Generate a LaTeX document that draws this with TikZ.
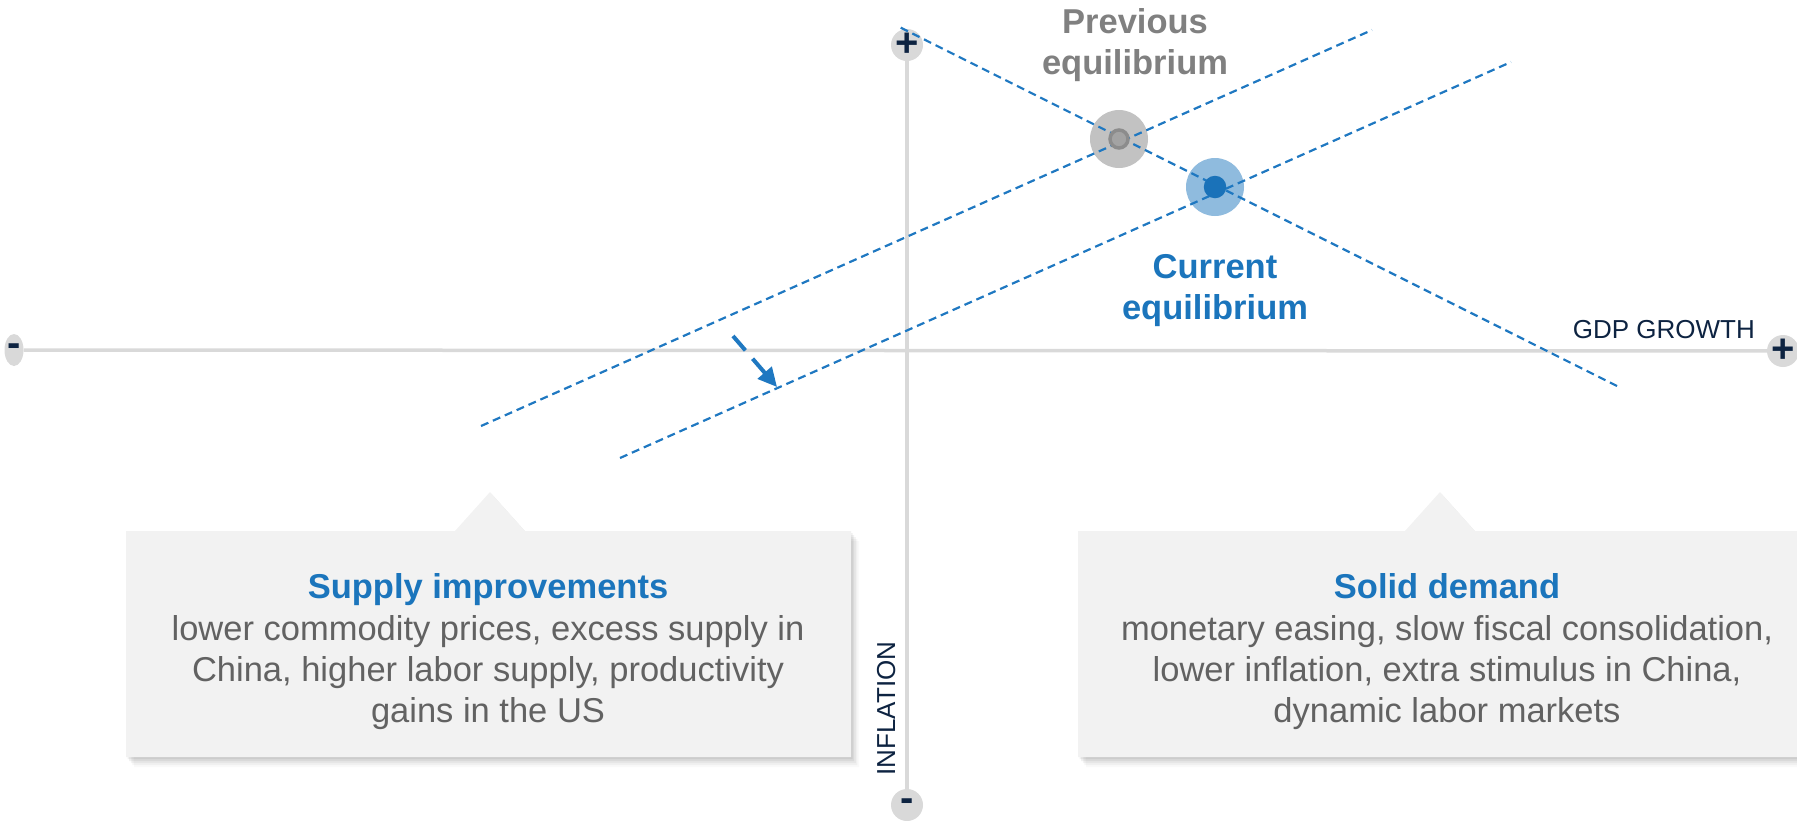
\documentclass[tikz,border=0pt]{standalone}
\usepackage{fontspec}
\setmainfont{Liberation Sans}
\usetikzlibrary{arrows.meta,shapes.geometric}
\definecolor{axisgray}{HTML}{D9D9D9}
\definecolor{navy}{HTML}{0D2341}
\definecolor{lineblue}{HTML}{1F78C1}
\definecolor{titleblue}{HTML}{1B75BC}
\definecolor{prevgray}{HTML}{808080}
\definecolor{bodygray}{HTML}{626262}
\definecolor{boxfill}{HTML}{F2F2F2}
\definecolor{prevouter}{HTML}{C2C2C2}
\definecolor{previnner}{HTML}{A3A3A3}
\definecolor{prevring}{HTML}{8C8C8C}
\definecolor{curouter}{HTML}{8FBBDE}
\definecolor{curinner}{HTML}{1A72B9}
\begin{document}
\begin{tikzpicture}[x=1pt,y=-1pt,
  endcap/.style={circle, fill=axisgray, minimum size=32pt, inner sep=0pt},
  sidecap/.style={ellipse, fill=axisgray, minimum width=19pt, minimum height=32pt, inner sep=0pt},
  sign/.style={text=navy, font=\fontsize{40}{40}\selectfont\bfseries, inner sep=0pt},
  axisline/.style={draw=axisgray, line width=3.5pt},
  sdline/.style={draw=lineblue, line width=2.2pt, dash pattern=on 8pt off 5pt},
  shiftarrow/.style={draw=lineblue, line width=4pt, dash pattern=on 19pt off 11pt, -{Triangle[length=19pt,width=18pt]}},
  bigdot/.style={circle, minimum size=58pt, inner sep=0pt},
  eqtitle/.style={font=\fontsize{34.5}{41}\selectfont\bfseries, anchor=base, inner sep=0pt},
  boxtitle/.style={font=\fontsize{34.5}{41}\selectfont\bfseries, text=titleblue, anchor=base, inner sep=0pt},
  boxbody/.style={font=\fontsize{34.5}{41}\selectfont, text=bodygray, anchor=base, inner sep=0pt},
  axislabel/.style={font=\fontsize{26}{30}\selectfont, text=navy, inner sep=0pt},
  callout/.style={fill=boxfill}
]
\useasboundingbox (0,0) rectangle (1797,820);
\clip (0,0) rectangle (1797,820);

% axis end caps
\node[endcap] (ytop) at (907,45) {};
\node[endcap] (ybot) at (907,805) {};
\node[sidecap] (xminus) at (14,350) {};
\node[endcap] (xplus) at (1783,351) {};
\draw[axisline] (ytop) -- (ybot);
\draw[axisline] (xminus) -- (xplus);
\node[sign] (ytopsign) at (ytop) {+};
\node[sign] (ybotsign) at (ybot) {-};
\node[sign] (xminussign) at (xminus) {-};
\node[sign] (xplussign) at (xplus) {+};

% axis labels
\node[axislabel, anchor=base east] (gdp) at (1755,338) {GDP GROWTH};
\node[axislabel, anchor=base, rotate=90] (infl) at (895,708.5) {INFLATION};

% callout shadows
\foreach \s/\o in {10/0.025,8/0.035,6/0.045,4/0.055,2/0.06} {
  \fill[black, opacity=\o, shift={(0.8*\s,\s)}]
    (126,531) -- (455,531) -- (490,492) -- (525,531) -- (851,531) -- (851,757) -- (126,757) -- cycle;
  \fill[black, opacity=\o, shift={(0.8*\s,\s)}]
    (1078,531) -- (1405,531) -- (1440,492) -- (1475,531) -- (1830,531) -- (1830,757) -- (1078,757) -- cycle;
}
% callouts
\fill[callout] (126,531) -- (455,531) -- (490,492) -- (525,531) -- (851,531) -- (851,757) -- (126,757) -- cycle;
\fill[callout] (1078,531) -- (1405,531) -- (1440,492) -- (1475,531) -- (1830,531) -- (1830,757) -- (1078,757) -- cycle;

\node[boxtitle] (suptitle) at (488,598) {Supply improvements};
\node[boxbody] (supl1) at (488,640) {lower commodity prices, excess supply in};
\node[boxbody] (supl2) at (488,681) {China, higher labor supply, productivity};
\node[boxbody] (supl3) at (488,722) {gains in the US};

\node[boxtitle] (demtitle) at (1447,598) {Solid demand};
\node[boxbody] (deml1) at (1447,640) {monetary easing, slow fiscal consolidation,};
\node[boxbody] (deml2) at (1447,681) {lower inflation, extra stimulus in China,};
\node[boxbody] (deml3) at (1447,722) {dynamic labor markets};

% equilibrium halos
\node[bigdot, fill=prevouter] (prevhalo) at (1119,139) {};
\node[bigdot, fill=curouter] (curhalo) at (1215,187) {};

% supply and demand lines
\coordinate (da) at (900.7,27.7);
\coordinate (db) at (1617,386);
\coordinate (s1a) at (481,426);
\coordinate (s1b) at (1372,30);
\coordinate (s2a) at (620,458);
\coordinate (s2b) at (1511,62);
\draw[sdline] (da) -- (db);
\draw[sdline] (s1a) -- (s1b);
\draw[sdline] (s2a) -- (s2b);

% equilibrium points
\node[circle, fill=previnner, draw=prevring, line width=3.5pt, minimum size=18pt, inner sep=0pt] (prevdot) at (prevhalo) {};
\node[circle, fill=curinner, minimum size=22.5pt, inner sep=0pt] (curdot) at (curhalo) {};

% shift arrow
\coordinate (arrA) at (733,336);
\coordinate (arrB) at (777,387);
\draw[shiftarrow] (arrA) -- (arrB);

% equilibrium labels
\node[eqtitle, text=prevgray] (prevl1) at (1135,33) {Previous};
\node[eqtitle, text=prevgray] (prevl2) at (1135,74) {equilibrium};
\node[eqtitle, text=titleblue] (curl1) at (1215,278) {Current};
\node[eqtitle, text=titleblue] (curl2) at (1215,319) {equilibrium};
\end{tikzpicture}
\end{document}
